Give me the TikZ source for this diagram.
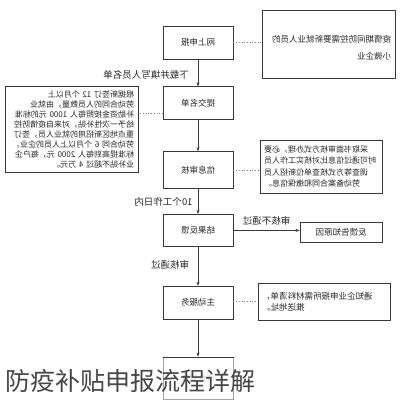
\documentclass[tikz,border=0pt]{standalone}
\usepackage{fontspec}
\newfontfamily\cjk{Noto Sans CJK SC}
\usetikzlibrary{positioning,arrows.meta}
\definecolor{linegray}{RGB}{55,55,55}
\definecolor{textgray}{RGB}{40,40,40}

\begin{document}
\begin{tikzpicture}[x=1pt, y=-1pt,
stepbox/.style={draw=linegray, line width=0.8pt, minimum width=70pt, minimum height=33pt, inner sep=0pt, text=textgray, font=\cjk\fontsize{8.5}{10}\selectfont},
notebox/.style={draw=linegray, line width=0.8pt, inner sep=4pt, text=textgray, font=\cjk\fontsize{8.5}{11.5}\selectfont},
flow/.style={draw=linegray, line width=0.6pt, -{Stealth[length=4pt,width=3pt]}},
link/.style={draw=gray, dotted, line width=0.7pt},
tag/.style={inner sep=1pt, text=textgray, font=\cjk\fontsize{9.5}{10}\selectfont},
]
\fill[white] (0,0) rectangle (405,400);
\useasboundingbox (0,0) rectangle (405,400);

\begin{scope}[xshift=405pt, xscale=-1, transform shape]
\node[stepbox] (apply) at (207,42.5) {网上申报};
\node[stepbox, below=27pt of apply] (submit) {提交名单};
\node[stepbox, below=31pt of submit, minimum height=37pt] (check) {信息审核};
\node[stepbox, below=25pt of check, minimum height=32pt] (result) {结果反馈};
\node[stepbox, below=39pt of result] (serve) {主动服务};
\node[stepbox, below=37pt of serve, minimum height=42pt, text=gray!70] (pay) {资金发放};

\node[notebox, minimum width=133pt, minimum height=68pt, text width=125pt, align=left, font=\cjk\fontsize{8.5}{17}\selectfont] (scope note) at (76.5,44)
  {\mbox{}\\[-2pt]疫情期间防控需要新就业人员的\\小微企业};
\node[notebox, minimum width=133pt, minimum height=85pt, text width=125pt, align=left, font=\cjk\fontsize{8}{10}\selectfont] (rule note) at (333.5,129.5)
  {根据新签订 12 个月以上\\劳动合同的人员数量，由就业\\补助资金按照每人 1000 元的标准\\给予一次性补贴，对来自疫情防控\\重点地区新招用的就业人员，签订\\劳动合同 6 个月以上人员的企业，\\标准提高到每人 2000 元，每户企\\业补贴不超过 4 万元。};
\node[notebox, minimum width=122pt, minimum height=53pt, text width=114pt, align=right, font=\cjk\fontsize{8}{11.5}\selectfont] (check note) at (84,166.5)
  {采取书面审核方式办理，必要\\时可通过信息比对核实工作人员\\调查等方式核查单位新招人员\\劳动备案合同和缴保信息。};
\node[notebox, minimum width=82pt, minimum height=20pt, inner sep=0pt] (reject) at (64,232) {反馈告知原因};
\node[notebox, minimum width=132pt, minimum height=37pt, text width=124pt, align=right] (serve note) at (81,301.5)
  {通知企业申报所需材料清单，\\推送地址。};

\draw[flow] (apply) -- (submit);
\draw[flow] (submit) -- (check);
\draw[flow] (check) -- (result);
\draw[flow] (result) -- (serve);
\draw[flow] (serve) -- (pay);
\draw[flow] (result.west) -- (result.west -| reject.east);

\draw[link] (apply.west) -- (apply.west -| scope note.east);
\draw[link] ([yshift=-10pt]submit.east) -- ([yshift=-10pt]submit.east -| rule note.west);
\draw[link] (check.west) -- (check.west -| check note.east);
\draw[link] ([yshift=1.5pt]serve.west) -- ([yshift=1.5pt]serve.west -| serve note.east);

\node[tag] (download) at (259,75) {下载并填写人员名单};
\node[tag] (days) at (241.5,202) {10个工作日内};
\node[tag] (fail) at (138.5,221) {审核不通过};
\node[tag] (pass) at (235,265) {审核通过};
\end{scope}

\fill[white, opacity=0.55] (0,358) rectangle (262,400);
\node[anchor=base west, inner sep=0pt, text=black!72, font=\cjk\fontsize{25}{25}\selectfont] (title) at (5,390) {防疫补贴申报流程详解};
\end{tikzpicture}
\end{document}
